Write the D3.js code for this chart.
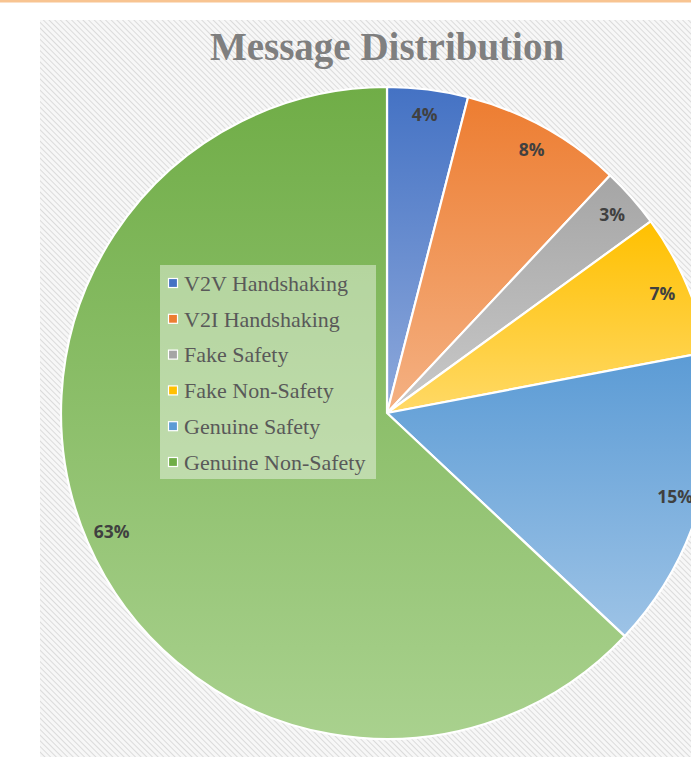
<!DOCTYPE html>
<html><head><meta charset="utf-8">
<script src="https://cdn.jsdelivr.net/npm/d3@7"></script>
<style>html,body{margin:0;padding:0;background:#fff;overflow:hidden}</style>
</head><body>
<svg id="c" width="691" height="757"></svg>
<script>
const categories = ["V2V Handshaking","V2I Handshaking","Fake Safety","Fake Non-Safety","Genuine Safety","Genuine Non-Safety"];
const values = [4, 8, 3, 7, 15, 63];
const labels = ["4%","8%","3%","7%","15%","63%"];
const darkColors = ["#4472C4","#ED7D31","#A5A5A5","#FFC000","#5B9BD5","#70AD47"];
const lightColors = ["#8EA9DB","#F4B183","#C9C9C9","#FFD966","#9DC3E6","#A9D18E"];

const svg = d3.select("#c");
const W = 691, H = 757;
const defs = svg.append("defs");

// hatch pattern
const pat = defs.append("pattern").attr("id","hatch").attr("patternUnits","userSpaceOnUse")
  .attr("width",4).attr("height",4).attr("patternTransform","rotate(-45)");
pat.append("rect").attr("width",4).attr("height",4).attr("fill","#f7f7f7");
pat.append("line").attr("x1",0).attr("y1",0).attr("x2",0).attr("y2",4)
  .attr("stroke","#d4d4d4").attr("stroke-width",1.6);

categories.forEach((c,i)=>{
  const g = defs.append("linearGradient").attr("id","g"+i)
    .attr("x1",0).attr("y1",0).attr("x2",0).attr("y2",1);
  g.append("stop").attr("offset","0%").attr("stop-color",darkColors[i]);
  g.append("stop").attr("offset","100%").attr("stop-color",lightColors[i]);
});

// top orange line
svg.append("rect").attr("x",0).attr("y",0).attr("width",W).attr("height",2.5).attr("fill","#F8C491");
// chart area
svg.append("rect").attr("x",40).attr("y",20).attr("width",W-40).attr("height",H-20).attr("fill","url(#hatch)");

// title
svg.append("text").attr("x",387).attr("y",60).attr("text-anchor","middle")
  .attr("font-family","'Liberation Serif','Times New Roman',serif").attr("font-weight","bold")
  .attr("font-size",39).attr("fill","#7f7f7f").text("Message Distribution");

const cx = 387, cy = 413, R = 326;
const pie = d3.pie().sort(null).value(d=>d)(values);
const arc = d3.arc().innerRadius(0).outerRadius(R);
const labelArc = d3.arc().innerRadius(300).outerRadius(300);

const g = svg.append("g").attr("transform",`translate(${cx},${cy})`);
g.selectAll("path").data(pie).join("path")
  .attr("d",arc).attr("fill",(d,i)=>`url(#g${i})`)
  .attr("stroke","#fff").attr("stroke-width",2.2).attr("stroke-linejoin","round");

g.selectAll("text.lbl").data(pie).join("text").attr("class","lbl")
  .attr("transform",d=>`translate(${labelArc.centroid(d)})`)
  .attr("text-anchor","middle").attr("dy","0.35em")
  .attr("font-family","'Open Sans','DejaVu Sans',sans-serif").attr("font-weight","bold")
  .attr("font-size",17.5).attr("fill","#404040")
  .text((d,i)=>labels[i]);

// legend
const lg = svg.append("g");
lg.append("rect").attr("x",160).attr("y",265).attr("width",216).attr("height",214)
  .attr("fill","#ffffff").attr("fill-opacity",0.42);
const rowY = d3.scalePoint().domain(categories).range([283,462]);
categories.forEach((c,i)=>{
  const y = rowY(c);
  lg.append("rect").attr("x",168.5).attr("y",y-4.5).attr("width",9).attr("height",9)
    .attr("fill",darkColors[i]).attr("stroke","#fff").attr("stroke-width",1.2);
  lg.append("text").attr("x",184).attr("y",y).attr("dy","0.35em")
    .attr("font-family","'Liberation Serif','Times New Roman',serif")
    .attr("font-size",22).attr("fill","#595959").text(c);
});
</script>
</body></html>
